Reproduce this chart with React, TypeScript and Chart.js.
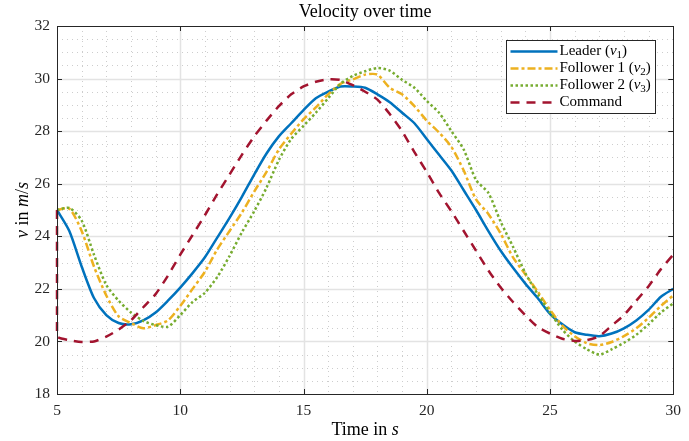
import React, { useEffect, useRef } from "react";
import { Chart, registerables } from "chart.js";

Chart.register(...registerables);

const TIME = [
  5, 5.5, 6, 6.5, 7, 7.5, 8, 8.5, 9, 9.5, 10, 10.5, 11, 11.5, 12, 12.5, 13, 13.5, 14, 14.5,
  15, 15.5, 16, 16.5, 17, 17.5, 18, 18.5, 19, 19.5, 20, 20.5, 21, 21.5, 22, 22.5, 23, 23.5,
  24, 24.5, 25, 25.5, 26, 26.5, 27, 27.5, 28, 28.5, 29, 29.5, 30,
];

const LEADER = [
  25.0, 24.2, 22.85, 21.65, 21.0, 20.7, 20.65, 20.8, 21.1, 21.55, 22.05, 22.6, 23.2, 23.95,
  24.7, 25.5, 26.35, 27.15, 27.8, 28.3, 28.8, 29.25, 29.5, 29.7, 29.7, 29.65, 29.4, 29.1,
  28.7, 28.3, 27.7, 27.1, 26.5, 25.75, 25.0, 24.2, 23.45, 22.8, 22.2, 21.65, 21.05, 20.65,
  20.35, 20.25, 20.2, 20.3, 20.5, 20.8, 21.2, 21.7, 22.0,
];

const FOLLOWER1 = [
  25.0, 25.05, 24.2, 22.85, 21.75, 20.95, 20.7, 20.5, 20.62, 20.8, 21.35, 22.0, 22.65, 23.5,
  24.2, 24.9, 25.7, 26.45, 27.3, 27.9, 28.45, 28.9, 29.4, 29.8, 29.97, 30.15, 30.15, 29.65,
  29.4, 28.95, 28.4, 27.95, 27.4, 26.5, 25.4, 24.85, 24.1, 23.2, 22.55, 21.9, 21.2, 20.6,
  20.2, 19.93, 19.86, 19.98, 20.2, 20.5, 20.9, 21.35, 21.75,
];

const FOLLOWER2 = [
  25.0, 25.08, 24.6, 23.3, 22.15, 21.55, 21.1, 20.78, 20.62, 20.56, 21.0, 21.5, 21.85, 22.45,
  23.25, 24.15, 24.95, 25.85, 26.9, 27.7, 28.2, 28.7, 29.25, 29.8, 30.1, 30.28, 30.4, 30.3,
  29.95, 29.65, 29.15, 28.7, 28.0, 27.3, 26.14, 25.65, 24.55, 23.6, 22.6, 21.8, 21.1, 20.45,
  20.0, 19.7, 19.5, 19.7, 19.95, 20.25, 20.65, 21.1, 21.45,
];

const COMMAND_START = 25.0;
const COMMAND = [
  20.2, 20.05, 19.98, 20.0, 20.18, 20.45, 20.8, 21.3, 21.8, 22.5, 23.3, 24.05, 24.8, 25.6,
  26.35, 27.1, 27.8, 28.4, 28.95, 29.4, 29.7, 29.88, 29.97, 29.95, 29.75, 29.5, 29.2, 28.65,
  28.0, 27.2, 26.45, 25.65, 24.95, 24.2, 23.45, 22.7, 22.05, 21.5, 21.0, 20.55, 20.3, 20.1,
  20.02, 20.05, 20.2, 20.6, 21.0, 21.55, 22.1, 22.75, 23.3,
];

const X_MIN = 5;
const X_MAX = 30;
const X_STEP = 5;
const X_MINOR_STEP = 1;
const Y_MIN = 18;
const Y_MAX = 32;
const Y_STEP = 2;
const Y_MINOR_STEP = 0.5;

const TITLE = "Velocity over time";
const X_TITLE = [{ t: "Time in " }, { t: "s", i: true }];
const Y_TITLE = [{ t: "v", i: true }, { t: " in " }, { t: "m", i: true }, { t: "/" }, { t: "s", i: true }];
const LEGEND_LABELS = [
  [{ t: "Leader (" }, { t: "v", i: true }, { t: "1", s: true }, { t: ")" }],
  [{ t: "Follower 1 (" }, { t: "v", i: true }, { t: "2", s: true }, { t: ")" }],
  [{ t: "Follower 2 (" }, { t: "v", i: true }, { t: "3", s: true }, { t: ")" }],
  [{ t: "Command" }],
];

const FONT = "'Liberation Serif', 'DejaVu Serif', serif";

type Part = { t: string; i?: boolean; s?: boolean };

function partFont(p: Part, size: number) {
  const sz = p.s ? Math.round(size * 0.7) : size;
  return `${p.i ? "italic " : ""}${sz}px ${FONT}`;
}

function richWidth(ctx: CanvasRenderingContext2D, parts: Part[], size: number) {
  let w = 0;
  for (const p of parts) {
    ctx.font = partFont(p, size);
    w += ctx.measureText(p.t).width;
  }
  return w;
}

function drawRich(
  ctx: CanvasRenderingContext2D,
  parts: Part[],
  x: number,
  y: number,
  size: number,
  align: "left" | "center"
) {
  let cx = align === "center" ? x - richWidth(ctx, parts, size) / 2 : x;
  ctx.textAlign = "left";
  ctx.textBaseline = "middle";
  for (const p of parts) {
    ctx.font = partFont(p, size);
    ctx.fillText(p.t, cx, p.s ? y + size * 0.25 : y);
    cx += ctx.measureText(p.t).width;
  }
}

const decorPlugin = {
  id: "decor",
  beforeDatasetsDraw(chart: any) {
    const { ctx, chartArea } = chart;
    const { left, right, top, bottom } = chartArea;
    const xs = chart.scales.x;
    const ys = chart.scales.y;
    ctx.save();
    ctx.lineWidth = 1;
    // minor grid
    ctx.strokeStyle = "#cdcdcd";
    ctx.setLineDash([1, 4]);
    for (let v = X_MIN + X_MINOR_STEP; v < X_MAX; v += X_MINOR_STEP) {
      if (Math.abs(v % X_STEP) < 1e-6) continue;
      const px = Math.round(xs.getPixelForValue(v)) + 0.5;
      ctx.beginPath();
      ctx.moveTo(px, top);
      ctx.lineTo(px, bottom);
      ctx.stroke();
    }
    for (let v = Y_MIN + Y_MINOR_STEP; v < Y_MAX; v += Y_MINOR_STEP) {
      if (Math.abs((v - Y_MIN) % Y_STEP) < 1e-6) continue;
      const py = Math.round(ys.getPixelForValue(v)) + 0.5;
      ctx.beginPath();
      ctx.moveTo(left, py);
      ctx.lineTo(right, py);
      ctx.stroke();
    }
    // major grid
    ctx.setLineDash([]);
    ctx.strokeStyle = "#e3e3e3";
    ctx.lineWidth = 1.5;
    for (let v = X_MIN + X_STEP; v < X_MAX; v += X_STEP) {
      const px = Math.round(xs.getPixelForValue(v)) + 0.5;
      ctx.beginPath();
      ctx.moveTo(px, top);
      ctx.lineTo(px, bottom);
      ctx.stroke();
    }
    for (let v = Y_MIN + Y_STEP; v < Y_MAX; v += Y_STEP) {
      const py = Math.round(ys.getPixelForValue(v)) + 0.5;
      ctx.beginPath();
      ctx.moveTo(left, py);
      ctx.lineTo(right, py);
      ctx.stroke();
    }
    ctx.restore();
  },
  afterDatasetsDraw(chart: any) {
    const { ctx, chartArea } = chart;
    const { left, right, top, bottom } = chartArea;
    const xs = chart.scales.x;
    const ys = chart.scales.y;
    ctx.save();
    // axes box
    ctx.strokeStyle = "#262626";
    ctx.lineWidth = 1;
    ctx.setLineDash([]);
    ctx.strokeRect(Math.round(left) + 0.5, Math.round(top) + 0.5, Math.round(right - left), Math.round(bottom - top));
    const tl = 5;
    for (let v = X_MIN + X_STEP; v < X_MAX; v += X_STEP) {
      const px = Math.round(xs.getPixelForValue(v)) + 0.5;
      ctx.beginPath();
      ctx.moveTo(px, bottom);
      ctx.lineTo(px, bottom - tl);
      ctx.moveTo(px, top);
      ctx.lineTo(px, top + tl);
      ctx.stroke();
    }
    for (let v = Y_MIN + Y_STEP; v < Y_MAX; v += Y_STEP) {
      const py = Math.round(ys.getPixelForValue(v)) + 0.5;
      ctx.beginPath();
      ctx.moveTo(left, py);
      ctx.lineTo(left + tl, py);
      ctx.moveTo(right, py);
      ctx.lineTo(right - tl, py);
      ctx.stroke();
    }

    // legend
    const bx = Math.round(right - 167) + 0.5;
    const by = Math.round(top + 14) + 0.5;
    const bw = 149;
    const bh = 73;
    ctx.fillStyle = "#ffffff";
    ctx.fillRect(bx, by, bw, bh);
    ctx.strokeStyle = "#262626";
    ctx.lineWidth = 1;
    ctx.strokeRect(bx, by, bw, bh);
    const dsList = chart.data.datasets;
    for (let i = 0; i < dsList.length; i++) {
      const ds = dsList[i];
      const ry = by + 11 + i * 17;
      ctx.strokeStyle = ds.borderColor;
      ctx.lineWidth = ds.borderWidth;
      ctx.setLineDash(ds.borderDash || []);
      ctx.beginPath();
      ctx.moveTo(bx + 4, ry);
      ctx.lineTo(bx + 51, ry);
      ctx.stroke();
      ctx.setLineDash([]);
      ctx.fillStyle = "#000000";
      drawRich(ctx, LEGEND_LABELS[i] as Part[], bx + 53, ry, 15, "left");
    }

    // titles
    ctx.fillStyle = "#000000";
    drawRich(ctx, [{ t: TITLE }], (left + right) / 2, 12, 18, "center");
    drawRich(ctx, X_TITLE as Part[], (left + right) / 2, 430, 18, "center");
    ctx.translate(23, (top + bottom) / 2);
    ctx.rotate(-Math.PI / 2);
    drawRich(ctx, Y_TITLE as Part[], 0, 0, 18, "center");
    ctx.restore();
  },
};

export default function App() {
  const ref = useRef<HTMLCanvasElement | null>(null);
  useEffect(() => {
    if (!ref.current) return;
    const mk = (vals: number[]) => TIME.map((t, i) => ({ x: t, y: vals[i] }));
    const cmd = [{ x: TIME[0], y: COMMAND_START }, ...mk(COMMAND)];
    const common = {
      pointRadius: 0,
      borderWidth: 2.5,
      tension: 0.25,
      fill: false,
      clip: 6,
    };
    const chart = new Chart(ref.current, {
      type: "line",
      data: {
        datasets: [
          { ...common, label: "Leader", data: mk(LEADER), borderColor: "#0072BD", borderDash: [], order: 4 },
          { ...common, label: "Follower 1", data: mk(FOLLOWER1), borderColor: "#EDB120", borderDash: [8, 3, 3, 3], order: 3 },
          { ...common, label: "Follower 2", data: mk(FOLLOWER2), borderColor: "#77AC30", borderDash: [2.5, 2.5], order: 2 },
          { ...common, label: "Command", data: cmd, borderColor: "#A2142F", borderDash: [9, 7], tension: 0.2, order: 1 },
        ],
      },
      options: {
        responsive: false,
        animation: false,
        layout: { padding: { left: 0, right: 15, top: 26, bottom: 0 } },
        plugins: {
          legend: { display: false },
          tooltip: { enabled: false },
          title: { display: false },
        },
        scales: {
          x: {
            type: "linear",
            min: X_MIN,
            max: X_MAX,
            grid: { display: false, drawTicks: false },
            border: { display: false },
            ticks: {
              stepSize: X_STEP,
              color: "#262626",
              font: { family: FONT, size: 15.5 },
              padding: 8,
              maxRotation: 0,
            },
            afterFit: (s: any) => {
              s.height = 47;
            },
          },
          y: {
            type: "linear",
            min: Y_MIN,
            max: Y_MAX,
            grid: { display: false, drawTicks: false },
            border: { display: false },
            ticks: {
              stepSize: Y_STEP,
              color: "#262626",
              font: { family: FONT, size: 15.5 },
              padding: 7,
            },
            afterFit: (s: any) => {
              s.width = 57;
            },
          },
        },
      } as any,
      plugins: [decorPlugin],
    });
    return () => chart.destroy();
  }, []);
  return (
    <div style={{ position: "fixed", left: 0, top: 0, width: 689, height: 441, background: "#fff" }}>
      <canvas ref={ref} width={689} height={441} style={{ display: "block" }} />
    </div>
  );
}
